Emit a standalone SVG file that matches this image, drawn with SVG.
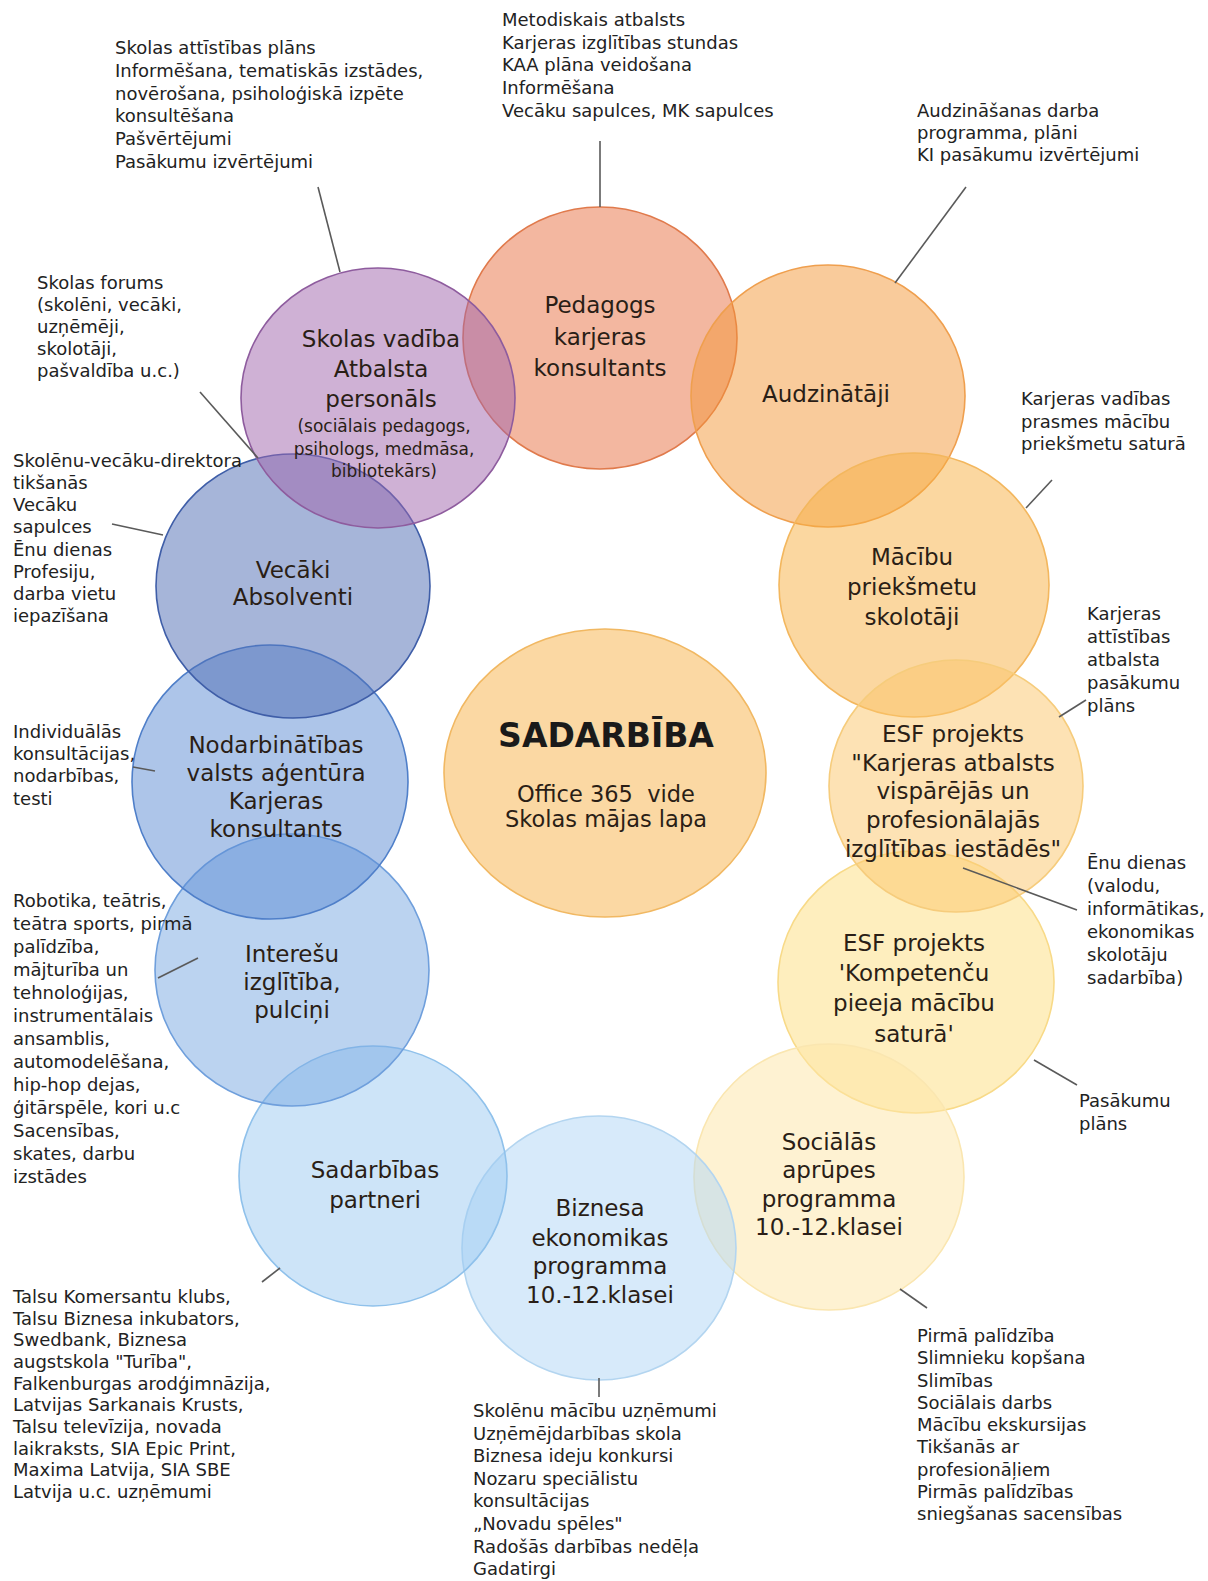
<svg xmlns="http://www.w3.org/2000/svg" width="1208" height="1581" viewBox="0 0 1208 1581">
<style>
  text { font-family: "DejaVu Sans", "Liberation Sans", sans-serif; fill: #222; }
  .lbl { font-size: 23px; text-anchor: middle; fill: #2a1e16; }
  .sm { font-size: 17px; text-anchor: middle; fill: #2a1e16; }
  .note { font-size: 18px; }
  .c { stroke-width: 1.6; }
  .conn line { stroke: #5a5a5a; stroke-width: 1.6; }
</style>
<rect width="1208" height="1581" fill="#ffffff"/>

<g id="pedagogs">
  <ellipse class="c" cx="600" cy="338" rx="137" ry="131" fill="rgb(231,111,65)" fill-opacity="0.5" stroke="#e07a4c"/>
  <text class="lbl"><tspan x="600" y="313">Pedagogs</tspan><tspan x="600" y="345">karjeras</tspan><tspan x="600" y="376">konsultants</tspan></text>
</g>
<g id="audzinataji">
  <ellipse class="c" cx="828" cy="396" rx="137" ry="131" fill="rgb(243,151,55)" fill-opacity="0.5" stroke="#ef9f4e"/>
  <text class="lbl" x="826" y="402">Audzinātāji</text>
</g>
<g id="macibu">
  <ellipse class="c" cx="914" cy="585" rx="135" ry="132" fill="rgb(247,175,65)" fill-opacity="0.5" stroke="#f3b75e"/>
  <text class="lbl"><tspan x="912" y="565">Mācību</tspan><tspan x="912" y="595">priekšmetu</tspan><tspan x="912" y="625">skolotāji</tspan></text>
</g>
<g id="esf-kompetencu">
  <ellipse class="c" cx="916" cy="982" rx="138" ry="131" fill="rgb(253,221,125)" fill-opacity="0.5" stroke="#f8da88"/>
  <text class="lbl"><tspan x="914" y="951">ESF projekts</tspan><tspan x="914" y="981">'Kompetenču</tspan><tspan x="914" y="1011">pieeja mācību</tspan><tspan x="914" y="1042">saturā'</tspan></text>
</g>
<g id="esf-karjeras">
  <ellipse class="c" cx="956" cy="786" rx="127" ry="126" fill="rgb(251,197,105)" fill-opacity="0.5" stroke="#f6cc7c"/>
  <text class="lbl"><tspan x="953" y="742">ESF projekts</tspan><tspan x="953" y="771">"Karjeras atbalsts</tspan><tspan x="953" y="799">vispārējās un</tspan><tspan x="953" y="828">profesionālajās</tspan><tspan x="953" y="857">izglītības iestādēs"</tspan></text>
</g>
<g id="socialas">
  <ellipse class="c" cx="829" cy="1177" rx="135" ry="133" fill="rgb(253,229,165)" fill-opacity="0.5" stroke="#fae6b0"/>
  <text class="lbl"><tspan x="829" y="1150">Sociālās</tspan><tspan x="829" y="1178">aprūpes</tspan><tspan x="829" y="1207">programma</tspan><tspan x="829" y="1235">10.-12.klasei</tspan></text>
</g>
<g id="biznesa">
  <ellipse class="c" cx="599" cy="1248" rx="137" ry="132" fill="rgb(175,213,245)" fill-opacity="0.5" stroke="#b3d5f0"/>
  <text class="lbl"><tspan x="600" y="1216">Biznesa</tspan><tspan x="600" y="1246">ekonomikas</tspan><tspan x="600" y="1274">programma</tspan><tspan x="600" y="1303">10.-12.klasei</tspan></text>
</g>
<g id="sadarbibas">
  <ellipse class="c" cx="373" cy="1176" rx="134" ry="130" fill="rgb(155,201,241)" fill-opacity="0.5" stroke="#8fc1eb"/>
  <text class="lbl"><tspan x="375" y="1178">Sadarbības</tspan><tspan x="375" y="1208">partneri</tspan></text>
</g>
<g id="intereu">
  <ellipse class="c" cx="292" cy="970" rx="137" ry="136" fill="rgb(120,168,226)" fill-opacity="0.5" stroke="#6f9fdc"/>
  <text class="lbl"><tspan x="292" y="962">Interešu</tspan><tspan x="292" y="990">izglītība,</tspan><tspan x="292" y="1018">pulciņi</tspan></text>
</g>
<g id="nodarbinatibas">
  <ellipse class="c" cx="270" cy="782" rx="138" ry="137" fill="rgb(92,140,212)" fill-opacity="0.5" stroke="#4f7fc9"/>
  <text class="lbl"><tspan x="276" y="753">Nodarbinātības</tspan><tspan x="276" y="781">valsts aģentūra</tspan><tspan x="276" y="809">Karjeras</tspan><tspan x="276" y="837">konsultants</tspan></text>
</g>
<g id="vecaki">
  <ellipse class="c" cx="293" cy="586" rx="137" ry="132" fill="rgb(78,108,180)" fill-opacity="0.5" stroke="#3f5ea8"/>
  <text class="lbl"><tspan x="293" y="578">Vecāki</tspan><tspan x="293" y="605">Absolventi</tspan></text>
</g>
<g id="skolas-vadiba">
  <ellipse class="c" cx="378" cy="398" rx="137" ry="130" fill="rgb(160,100,172)" fill-opacity="0.5" stroke="#8e5c9e"/>
  <text class="lbl"><tspan x="381" y="347">Skolas vadība</tspan><tspan x="381" y="377">Atbalsta</tspan><tspan x="381" y="407">personāls</tspan></text>
  <text class="sm"><tspan x="384" y="432">(sociālais pedagogs,</tspan><tspan x="384" y="455">psihologs, medmāsa,</tspan><tspan x="384" y="477">bibliotekārs)</tspan></text>
</g>
<g id="sadarbiba">
  <ellipse cx="605" cy="773" rx="161" ry="144" fill="#fbd8a3" stroke="#f1b862" stroke-width="1.6"/>
  <text x="606" y="747" style="font-size:33px;font-weight:bold;text-anchor:middle;fill:#1a1a1a">SADARBĪBA</text>
  <text style="font-size:22.5px;text-anchor:middle;fill:#2a1e16"><tspan x="606" y="802">Office 365&#160; vide</tspan><tspan x="606" y="827">Skolas mājas lapa</tspan></text>
</g>

<g id="connectors" class="conn">
  <line x1="318" y1="187" x2="340" y2="272"/>
  <line x1="600" y1="141" x2="600" y2="207"/>
  <line x1="966" y1="187" x2="895" y2="283"/>
  <line x1="1052" y1="480" x2="1026" y2="508"/>
  <line x1="1086" y1="700" x2="1059" y2="717"/>
  <line x1="963" y1="868" x2="1077" y2="910"/>
  <line x1="1034" y1="1060" x2="1077" y2="1085"/>
  <line x1="900" y1="1289" x2="927" y2="1308"/>
  <line x1="599" y1="1378" x2="599" y2="1397"/>
  <line x1="262" y1="1282" x2="280" y2="1268"/>
  <line x1="158" y1="978" x2="198" y2="958"/>
  <line x1="133" y1="767" x2="155" y2="771"/>
  <line x1="112" y1="524" x2="163" y2="535"/>
  <line x1="200" y1="392" x2="258" y2="458"/>
</g>

<g id="notes">
  <text class="note"><tspan x="115" y="54">Skolas attīstības plāns</tspan><tspan x="115" y="77">Informēšana, tematiskās izstādes,</tspan><tspan x="115" y="100">novērošana, psiholoģiskā izpēte</tspan><tspan x="115" y="122">konsultēšana</tspan><tspan x="115" y="145">Pašvērtējumi</tspan><tspan x="115" y="168">Pasākumu izvērtējumi</tspan></text>
  <text class="note"><tspan x="502" y="26">Metodiskais atbalsts</tspan><tspan x="502" y="49">Karjeras izglītības stundas</tspan><tspan x="502" y="71">KAA plāna veidošana</tspan><tspan x="502" y="94">Informēšana</tspan><tspan x="502" y="117">Vecāku sapulces, MK sapulces</tspan></text>
  <text class="note"><tspan x="917" y="117">Audzināšanas darba</tspan><tspan x="917" y="139">programma, plāni</tspan><tspan x="917" y="161">KI pasākumu izvērtējumi</tspan></text>
  <text class="note"><tspan x="1021" y="405">Karjeras vadības</tspan><tspan x="1021" y="428">prasmes mācību</tspan><tspan x="1021" y="450">priekšmetu saturā</tspan></text>
  <text class="note"><tspan x="1087" y="620">Karjeras</tspan><tspan x="1087" y="643">attīstības</tspan><tspan x="1087" y="666">atbalsta</tspan><tspan x="1087" y="689">pasākumu</tspan><tspan x="1087" y="712">plāns</tspan></text>
  <text class="note"><tspan x="1087" y="869">Ēnu dienas</tspan><tspan x="1087" y="892">(valodu,</tspan><tspan x="1087" y="915">informātikas,</tspan><tspan x="1087" y="938">ekonomikas</tspan><tspan x="1087" y="961">skolotāju</tspan><tspan x="1087" y="984">sadarbība)</tspan></text>
  <text class="note"><tspan x="1079" y="1107">Pasākumu</tspan><tspan x="1079" y="1130">plāns</tspan></text>
  <text class="note"><tspan x="917" y="1342">Pirmā palīdzība</tspan><tspan x="917" y="1364">Slimnieku kopšana</tspan><tspan x="917" y="1387">Slimības</tspan><tspan x="917" y="1409">Sociālais darbs</tspan><tspan x="917" y="1431">Mācību ekskursijas</tspan><tspan x="917" y="1453">Tikšanās ar</tspan><tspan x="917" y="1476">profesionāļiem</tspan><tspan x="917" y="1498">Pirmās palīdzības</tspan><tspan x="917" y="1520">sniegšanas sacensības</tspan></text>
  <text class="note"><tspan x="473" y="1417">Skolēnu mācību uzņēmumi</tspan><tspan x="473" y="1440">Uzņēmējdarbības skola</tspan><tspan x="473" y="1462">Biznesa ideju konkursi</tspan><tspan x="473" y="1485">Nozaru speciālistu</tspan><tspan x="473" y="1507">konsultācijas</tspan><tspan x="473" y="1530">„Novadu spēles"</tspan><tspan x="473" y="1553">Radošās darbības nedēļa</tspan><tspan x="473" y="1575">Gadatirgi</tspan></text>
  <text class="note"><tspan x="13" y="1303">Talsu Komersantu klubs,</tspan><tspan x="13" y="1325">Talsu Biznesa inkubators,</tspan><tspan x="13" y="1346">Swedbank, Biznesa</tspan><tspan x="13" y="1368">augstskola "Turība",</tspan><tspan x="13" y="1390">Falkenburgas arodģimnāzija,</tspan><tspan x="13" y="1411">Latvijas Sarkanais Krusts,</tspan><tspan x="13" y="1433">Talsu televīzija, novada</tspan><tspan x="13" y="1455">laikraksts, SIA Epic Print,</tspan><tspan x="13" y="1476">Maxima Latvija, SIA SBE</tspan><tspan x="13" y="1498">Latvija u.c. uzņēmumi</tspan></text>
  <text class="note"><tspan x="13" y="907">Robotika, teātris,</tspan><tspan x="13" y="930">teātra sports, pirmā</tspan><tspan x="13" y="953">palīdzība,</tspan><tspan x="13" y="976">mājturība un</tspan><tspan x="13" y="999">tehnoloģijas,</tspan><tspan x="13" y="1022">instrumentālais</tspan><tspan x="13" y="1045">ansamblis,</tspan><tspan x="13" y="1068">automodelēšana,</tspan><tspan x="13" y="1091">hip-hop dejas,</tspan><tspan x="13" y="1114">ģitārspēle, kori u.c</tspan><tspan x="13" y="1137">Sacensības,</tspan><tspan x="13" y="1160">skates, darbu</tspan><tspan x="13" y="1183">izstādes</tspan></text>
  <text class="note"><tspan x="13" y="738">Individuālās</tspan><tspan x="13" y="760">konsultācijas,</tspan><tspan x="13" y="782">nodarbības,</tspan><tspan x="13" y="805">testi</tspan></text>
  <text class="note"><tspan x="13" y="467">Skolēnu-vecāku-direktora</tspan><tspan x="13" y="489">tikšanās</tspan><tspan x="13" y="511">Vecāku</tspan><tspan x="13" y="533">sapulces</tspan><tspan x="13" y="556">Ēnu dienas</tspan><tspan x="13" y="578">Profesiju,</tspan><tspan x="13" y="600">darba vietu</tspan><tspan x="13" y="622">iepazīšana</tspan></text>
  <text class="note"><tspan x="37" y="289">Skolas forums</tspan><tspan x="37" y="311">(skolēni, vecāki,</tspan><tspan x="37" y="333">uzņēmēji,</tspan><tspan x="37" y="355">skolotāji,</tspan><tspan x="37" y="377">pašvaldība u.c.)</tspan></text>
</g>
</svg>
